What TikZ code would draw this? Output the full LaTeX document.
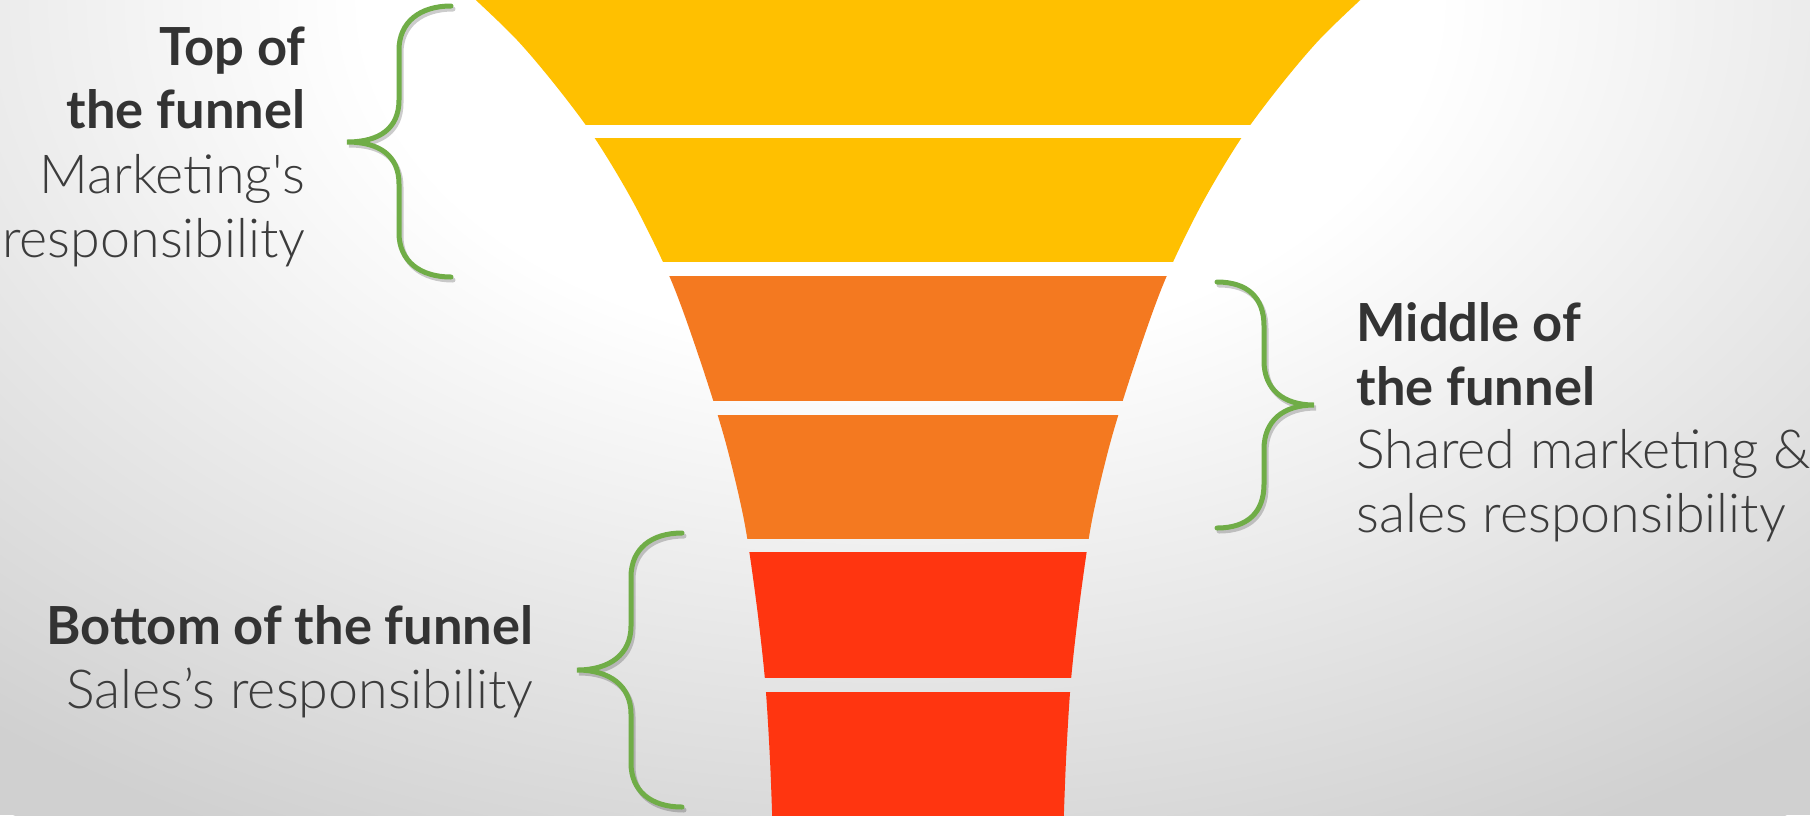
\documentclass[tikz,border=0pt]{standalone}
\usepackage{fontspec}
\setmainfont{Lato}
\newfontfamily\lightfont{Lato Light}
\usetikzlibrary{positioning}

\definecolor{funnelYellow}{HTML}{FFC000}
\definecolor{funnelOrange}{HTML}{F47920}
\definecolor{funnelRed}{HTML}{FF3510}
\definecolor{braceGreen}{HTML}{70AD47}
\definecolor{headGrey}{HTML}{333333}
\definecolor{subGrey}{HTML}{3C3C3C}
\definecolor{backEdge}{HTML}{D0D0D0}
\pgfdeclareradialshading{backglow}{\pgfpoint{0bp}{0bp}}{color(0bp)=(white); color(8.75bp)=(white); color(23.5bp)=(backEdge); color(50bp)=(backEdge)}

\begin{document}
\begin{tikzpicture}[x=0.4pt, y=-0.4pt,
  headline/.style={font=\fontsize{21}{24}\selectfont\bfseries, text=headGrey, inner sep=0},
  subline/.style={font=\fontsize{21.5}{24}\lightfont, text=subGrey, inner sep=0},
  bracecurve/.style={draw=braceGreen, line width=2pt, line cap=round},
  braceshadow/.style={draw=black, opacity=0.2, line width=2pt, line cap=round, xshift=0.8pt, yshift=-1.2pt}]
% backdrop: soft glow, white near the top of the funnel
\useasboundingbox (0,0) rectangle (1810,815);
\fill[backEdge] (0,0) rectangle (1810,815);
\begin{scope}
\clip (0,0) rectangle (1810,815);
\shade[shading=backglow] (900,0) ellipse [x radius=1530, y radius=1000];
\end{scope}
% the funnel outline, cut into six bands below
\path[save path=\funnelshape] plot[smooth, tension=0.5] coordinates {(432,-40) (517,40) (585,124) (632,200) (671,280) (700,360) (725,440) (744,520) (756,600) (765,680) (770,760) (773,840)}
  -- plot[smooth, tension=0.5] coordinates {(1063,840) (1066,760) (1071,680) (1080,600) (1092,520) (1111,440) (1136,360) (1165,280) (1204,200) (1251,124) (1319,40) (1404,-40)} -- cycle;
\begin{scope}
\clip (0,-40) rectangle (1810,124);
\fill[funnelYellow, use path=\funnelshape];
\end{scope}
\begin{scope}
\clip (0,138) rectangle (1810,261);
\fill[funnelYellow, use path=\funnelshape];
\end{scope}
\begin{scope}
\clip (0,276) rectangle (1810,400);
\fill[funnelOrange, use path=\funnelshape];
\end{scope}
\begin{scope}
\clip (0,415) rectangle (1810,538);
\fill[funnelOrange, use path=\funnelshape];
\end{scope}
\begin{scope}
\clip (0,552) rectangle (1810,677);
\fill[funnelRed, use path=\funnelshape];
\end{scope}
\begin{scope}
\clip (0,692) rectangle (1810,840);
\fill[funnelRed, use path=\funnelshape];
\end{scope}
% braces -- top (left side), middle (right side), bottom (left side)
\draw[braceshadow] (451,6) .. controls (420,6) and (399,22) .. (399,50) -- (399,100) .. controls (399,128) and (380,142) .. (347,142) .. controls (380,142) and (399,156) .. (399,184) -- (399,233) .. controls (399,261) and (420,277) .. (451,277);
\draw[bracecurve] (451,6) .. controls (420,6) and (399,22) .. (399,50) -- (399,100) .. controls (399,128) and (380,142) .. (347,142) .. controls (380,142) and (399,156) .. (399,184) -- (399,233) .. controls (399,261) and (420,277) .. (451,277);
\draw[braceshadow] (1217,282) .. controls (1248,282) and (1264,298) .. (1264,326) -- (1264,361) .. controls (1264,389) and (1283,405) .. (1314,405) .. controls (1283,405) and (1264,421) .. (1264,449) -- (1264,484) .. controls (1264,512) and (1248,528) .. (1217,528);
\draw[bracecurve] (1217,282) .. controls (1248,282) and (1264,298) .. (1264,326) -- (1264,361) .. controls (1264,389) and (1283,405) .. (1314,405) .. controls (1283,405) and (1264,421) .. (1264,449) -- (1264,484) .. controls (1264,512) and (1248,528) .. (1217,528);
\draw[braceshadow] (682,533) .. controls (651,533) and (631,549) .. (631,577) -- (631,626) .. controls (631,654) and (610,670) .. (577,670) .. controls (610,670) and (631,686) .. (631,714) -- (631,763) .. controls (631,791) and (651,807) .. (682,807);
\draw[bracecurve] (682,533) .. controls (651,533) and (631,549) .. (631,577) -- (631,626) .. controls (631,654) and (610,670) .. (577,670) .. controls (610,670) and (631,686) .. (631,714) -- (631,763) .. controls (631,791) and (651,807) .. (682,807);
% labels
\node[headline, anchor=base east] (topA) at (306,65) {Top of};
\node[headline, anchor=base east] (topB) at (306,128) {the funnel};
\node[subline, anchor=base east] (topC) at (306,193) {Marketing\textquotesingle s};
\node[subline, anchor=base east] (topD) at (306,257) {responsibility};
\node[headline, anchor=base west] (midA) at (1356,341) {Middle of};
\node[headline, anchor=base west] (midB) at (1356,405) {the funnel};
\node[subline, anchor=base west] (midC) at (1356,468) {Shared marketing \&};
\node[subline, anchor=base west] (midD) at (1356,532) {sales responsibility};
\node[headline, anchor=base east] (botA) at (534,644) {Bottom of the funnel};
\node[subline, anchor=base east] (botB) at (534,708) {Sales’s responsibility};
\end{tikzpicture}
\end{document}
